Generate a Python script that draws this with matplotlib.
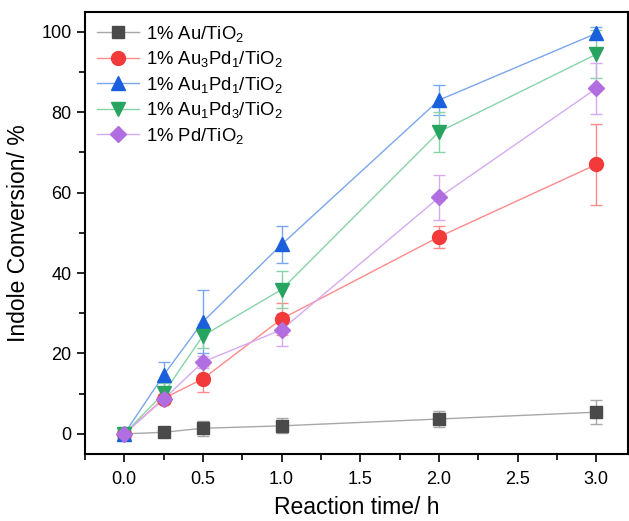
import matplotlib
matplotlib.use("Agg")
import matplotlib.pyplot as plt
from matplotlib.lines import Line2D
from matplotlib.ticker import MultipleLocator

plt.rcParams['font.family'] = ['Liberation Sans', 'DejaVu Sans']
plt.rcParams['mathtext.fontset'] = 'custom'
plt.rcParams['mathtext.rm'] = 'Liberation Sans'
plt.rcParams['mathtext.it'] = 'Liberation Sans'

time_h = [0, 0.25, 0.5, 1.0, 2.0, 3.0]

labels = ['1% Au/TiO$_2$', '1% Au$_3$Pd$_1$/TiO$_2$', '1% Au$_1$Pd$_1$/TiO$_2$',
          '1% Au$_1$Pd$_3$/TiO$_2$', '1% Pd/TiO$_2$']

au = [0, 0.4, 1.4, 2.0, 3.7, 5.4]
au_err = [0, 0.4, 1.8, 1.9, 1.9, 3.0]
au3pd1 = [0, 8.8, 13.7, 28.6, 49.0, 67.0]
au3pd1_err = [0, 1.0, 3.2, 4.0, 2.7, 10.0]
au1pd1 = [0, 14.6, 27.9, 47.1, 83.0, 99.6]
au1pd1_err = [0, 3.2, 7.8, 4.5, 3.8, 1.5]
au1pd3 = [0, 10.1, 24.4, 35.9, 75.1, 94.4]
au1pd3_err = [0, 2.5, 3.0, 4.5, 5.0, 6.0]
pd = [0, 8.6, 17.9, 25.9, 58.8, 85.9]
pd_err = [0, 1.0, 1.5, 4.0, 5.6, 6.4]

series = [au, au3pd1, au1pd1, au1pd3, pd]
errors = [au_err, au3pd1_err, au1pd1_err, au1pd3_err, pd_err]
markers = ['s', 'o', '^', 'v', 'D']
msizes = [9, 10, 10, 10, 8]
mcolors = ['#4a4a4a', '#f23a3a', '#1a5fdc', '#26a460', '#b06ee0']
lcolors = ['#a8a8a8', '#ff8a8a', '#7aa6ee', '#88d4a8', '#d6aaf2']

fig = plt.figure(figsize=(6.29, 5.21), dpi=100)
ax = fig.add_axes([0.135, 0.1286, 0.863, 0.849])

handles = []
for y, e, m, ms, mc, lc, lab in zip(series, errors, markers, msizes, mcolors, lcolors, labels):
    ax.errorbar(time_h, y, yerr=e, color=lc, lw=1.0, capsize=4, capthick=1.0,
                elinewidth=1.0, zorder=2)
    ax.plot(time_h, y, linestyle='none', marker=m, ms=ms, color=mc,
            markeredgecolor=mc, zorder=3)
    handles.append(Line2D([], [], color=lc, lw=1.0, marker=m, ms=ms,
                          markerfacecolor=mc, markeredgecolor=mc, label=lab))

ax.set_xlim(-0.25, 3.2)
ax.set_ylim(-5, 105)
ax.xaxis.set_major_locator(MultipleLocator(0.5))
ax.xaxis.set_minor_locator(MultipleLocator(0.25))
ax.yaxis.set_major_locator(MultipleLocator(20))
ax.yaxis.set_minor_locator(MultipleLocator(10))
ax.tick_params(which='major', direction='out', length=6, width=1.2, labelsize=13)
ax.tick_params(axis='x', which='major', pad=6)
ax.tick_params(which='minor', direction='out', length=4, width=1.2)
for s in ax.spines.values():
    s.set_linewidth(1.5)

ax.set_xlabel('Reaction time/ h', fontsize=16.5, labelpad=6)
ax.set_ylabel('Indole Conversion/ %', fontsize=16.5, labelpad=8)

ax.legend(handles=handles, loc='upper left', frameon=False, fontsize=13.3,
          handlelength=2.3, handletextpad=0.35, borderaxespad=0.25, labelspacing=0.3,
          bbox_to_anchor=(0.0, 1.0))

fig.savefig('out.png', dpi=100)
